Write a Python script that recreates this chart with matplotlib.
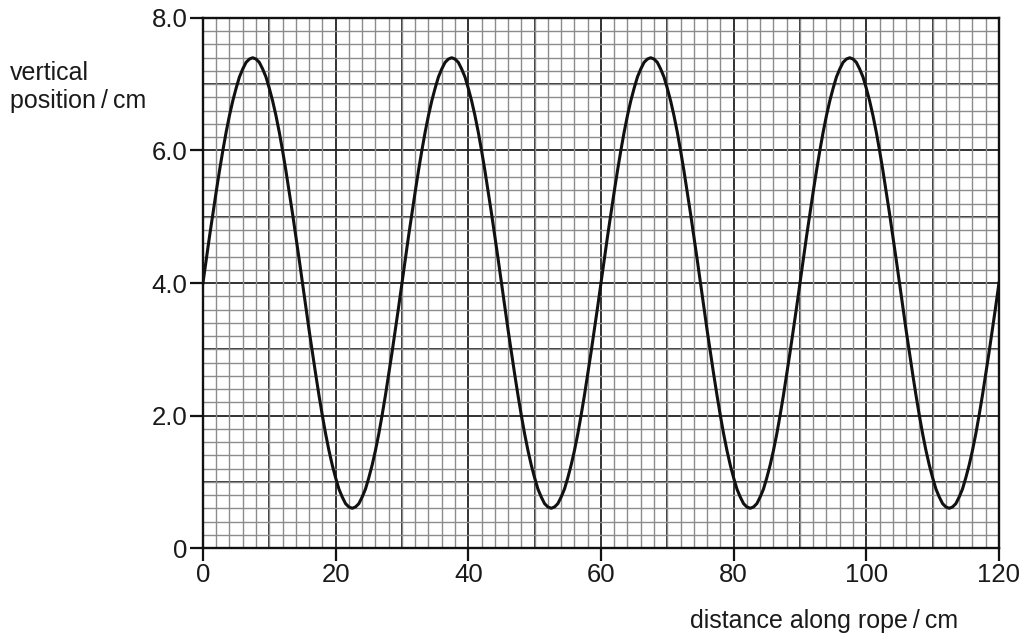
import numpy as np
import matplotlib.pyplot as plt
from matplotlib.ticker import MultipleLocator

plt.rcParams['font.family'] = ['Liberation Sans', 'DejaVu Sans']

# vertical position (cm) every 0.5 cm along the rope, one wavelength (30 cm)
one_wave = [4.00, 4.36, 4.71, 5.05, 5.38, 5.70, 6.00, 6.28, 6.53, 6.75,
            6.94, 7.11, 7.23, 7.33, 7.38, 7.40, 7.38, 7.33, 7.23, 7.11,
            6.94, 6.75, 6.53, 6.28, 6.00, 5.70, 5.38, 5.05, 4.71, 4.36,
            4.00, 3.64, 3.29, 2.95, 2.62, 2.30, 2.00, 1.72, 1.47, 1.25,
            1.06, 0.89, 0.77, 0.67, 0.62, 0.60, 0.62, 0.67, 0.77, 0.89,
            1.06, 1.25, 1.47, 1.72, 2.00, 2.30, 2.62, 2.95, 3.29, 3.64]
n_waves = 4
position = one_wave * n_waves + [4.00]
distance = np.arange(len(position)) * 0.5

x_ticks = [0, 20, 40, 60, 80, 100, 120]
y_ticks = [0, 2, 4, 6, 8]
y_labels = ['0', '2.0', '4.0', '6.0', '8.0']

fig = plt.figure(figsize=(10.25, 6.4), dpi=100)
ax = fig.add_axes([0.198, 0.1437, 0.7766, 0.8282])

# graph paper
ax.xaxis.set_minor_locator(MultipleLocator(2))
ax.yaxis.set_minor_locator(MultipleLocator(0.2))
ax.grid(which='minor', color='#8c8c8c', lw=1.0)
for xv in range(10, 120, 10):
    ax.axvline(xv, color='#222222', lw=1.3, zorder=1)
for yv in range(1, 8):
    ax.axhline(yv, color='#222222', lw=1.3, zorder=1)

ax.plot(distance, position, color='#111111', lw=2.2, zorder=3)

ax.set_xlim(0, 120)
ax.set_ylim(0, 8)
ax.set_xticks(x_ticks)
ax.set_yticks(y_ticks)
ax.set_yticklabels(y_labels)
ax.tick_params(which='major', direction='out', length=9.5, width=1.6,
               labelsize=18.5, pad=1.5, color='#111111', labelcolor='#1a1a1a')
ax.tick_params(which='minor', length=0)
for s in ax.spines.values():
    s.set_linewidth(1.7)
    s.set_color('#111111')
    s.set_zorder(4)

fig.text(0.010, 0.831, 'vertical\nposition\u2009/\u2009cm', fontsize=18,
         ha='left', va='baseline', linespacing=1.22, color='#1a1a1a')
fig.text(0.935, 0.019, 'distance along rope\u2009/\u2009cm', fontsize=18,
         ha='right', va='baseline', color='#1a1a1a')

fig.savefig('out.png', dpi=100)
